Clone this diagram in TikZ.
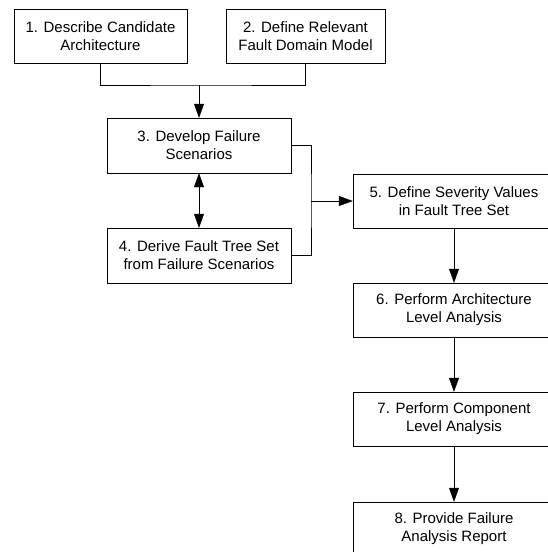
\documentclass[tikz,border=0pt]{standalone}
\usepackage{fontspec}
\setmainfont{Liberation Sans}
\usetikzlibrary{arrows.meta}
\tikzset{%
    >={Triangle[length=14pt,width=10pt]}, % filled arrow heads
    line width=1pt,%
    step box/.style={draw, rectangle, align=center, inner sep=0pt,
    minimum height=54pt, font={\fontsize{15}{18}\selectfont}},%
    wide box/.style={step box, minimum width=202pt}%
    }

\begin{document}
\begin{tikzpicture}[x=1pt,y=-1pt]
    \useasboundingbox (0,0) rectangle (548,552);
    \clip (0,0) rectangle (548,552);

    \node[step box, minimum width=173pt] (describe) at (100.5,36.5)
        {1. Describe Candidate\\Architecture};
    \node[step box, minimum width=159pt] (domain) at (305.5,36.5)
        {2. Define Relevant\\Fault Domain Model};
    \node[step box, minimum width=184pt, minimum height=55pt] (scenarios) at (199,145.5)
        {3. Develop Failure\\Scenarios};
    \node[step box, minimum width=184pt, minimum height=55pt] (faulttree) at (199,255.5)
        {4. Derive Fault Tree Set\\from Failure Scenarios};
    \node[wide box] (severity) at (454,201) {5. Define Severity Values\\in Fault Tree Set};
    \node[wide box] (archlevel) at (454,310) {6. Perform Architecture\\Level Analysis};
    \node[wide box] (complevel) at (454,419) {7. Perform Component\\Level Analysis};
    \node[wide box] (report) at (454,529) {8. Provide Failure\\Analysis Report};

    % joining lines
    \coordinate (J) at (199,85);
    \coordinate (K) at (311,201);
    \draw (describe.south) |- (J) -| (domain.south);
    \draw[->] (J) -- (scenarios.north);
    \draw[<->] (scenarios) -- (faulttree);
    \draw (scenarios.east) -| (K) |- (faulttree.east);
    \draw[->] (K) -- (severity.west);
    \draw[->] (severity) -- (archlevel);
    \draw[->] (archlevel) -- (complevel);
    \draw[->] (complevel) -- (report);
\end{tikzpicture}
\end{document}
